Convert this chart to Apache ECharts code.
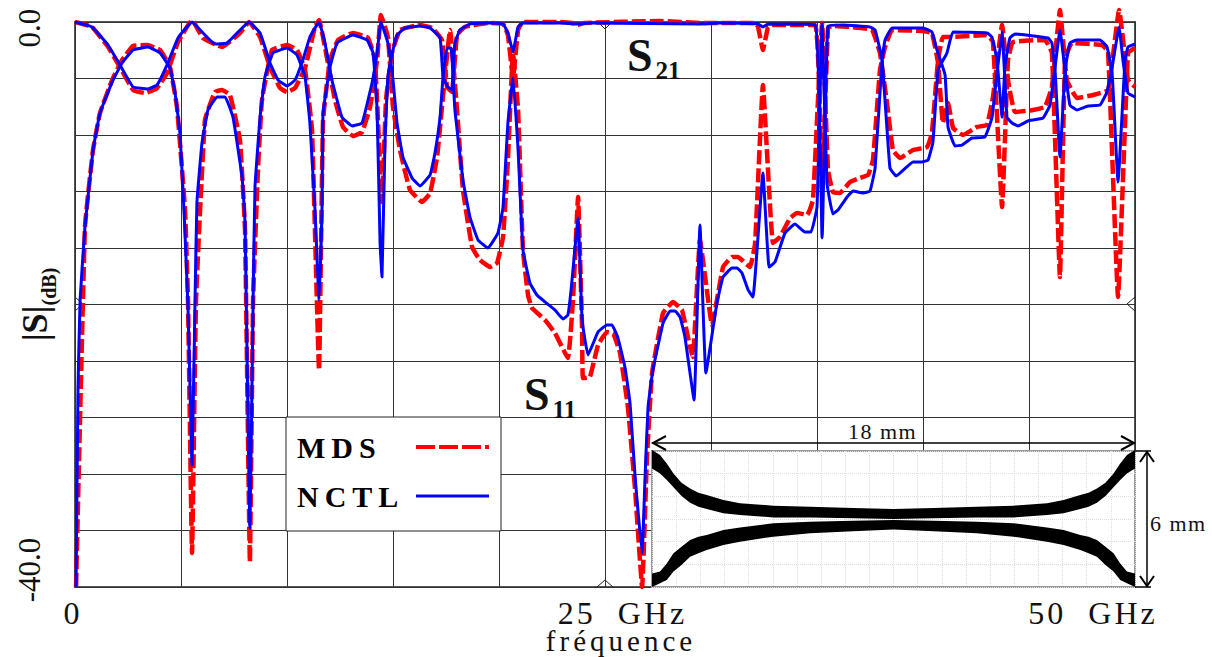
<!DOCTYPE html>
<html><head><meta charset="utf-8">
<style>html,body{margin:0;padding:0;background:#fff}#main{width:1212px;height:657px}</style>
<script src="https://cdn.jsdelivr.net/npm/echarts@6/dist/echarts.min.js"></script>
</head><body><div id="main"></div>
<script>
const s11Nctl=[[0,0],[.8,-.35],[1.56,-1.63],[2.12,-3.04],[2.74,-4.6],[3.44,-4.74],[3.87,-4.46],[4.34,-3.04],[4.86,-1.13],[5.52,0],[6.04,-.78],[6.6,-1.56],[7.17,-1.49],[7.69,-.71],[8.21,0],[8.73,-.78],[9.2,-2.9],[9.58,-4.11],[10,-4.53],[10.38,-4.11],[10.75,-2.69],[11.08,-1.06],[11.51,0],[11.79,-1.49],[12.12,-4.11],[12.59,-6.73],[13.07,-7.36],[13.54,-7.15],[14.01,-4.32],[14.25,-2.19],[14.43,0],[14.76,-1.49],[15,-4.11],[15.19,-7.15],[15.47,-9.56],[15.9,-11.04],[16.27,-11.61],[16.75,-10.83],[16.98,-9.27],[17.22,-6.73],[17.36,-3.89],[17.55,-1.84],[17.74,-1.84],[17.92,-6.23],[18.3,-11.19],[18.63,-13.81],[19.01,-15.43],[19.48,-16],[19.95,-14.94],[20.19,-13.1],[20.42,-7.15],[20.66,-3.96],[20.9,-9.06],[21.13,-16.14],[21.46,-18.48],[21.79,-19.33],[22.17,-19.82],[22.64,-20.39],[23.02,-21.03],[23.25,-20.74],[23.4,-18.97],[23.73,-13.88],[23.92,-21.1],[24.2,-23.58],[24.67,-21.95],[25.09,-21.45],[25.33,-21.45],[25.61,-22.37],[25.94,-24.43],[26.18,-26.97],[26.42,-32.21],[26.75,-37.59],[26.89,-32.21],[27.03,-27.26],[27.26,-24.64],[27.74,-21.31],[28.07,-20.46],[28.3,-20.46],[28.54,-20.89],[28.77,-22.3],[29.2,-26.76],[29.48,-14.37],[29.76,-24.85],[30.28,-19.89],[30.57,-18.05],[30.99,-17.42],[31.23,-17.42],[31.46,-17.77],[31.75,-18.97],[31.98,-19.47],[32.45,-10.69],[32.74,-17.35],[33.02,-16.99],[33.49,-14.94],[33.96,-14.3],[34.43,-14.87],[34.72,-14.87],[35,-13.1],[35.24,-.14],[35.47,-11.4],[35.75,-13.59],[35.99,-13.31],[36.42,-12.39],[36.7,-11.97],[37.17,-12.11],[37.5,-11.97],[37.74,-10.34],[38.07,-2.69],[38.21,-1.27],[38.54,-.42],[40,-.42],[40.42,-.71],[40.66,-1.98],[41.04,-3.75],[41.18,-7.43],[41.51,-8.78],[41.84,-8.71],[42.31,-8.21],[42.92,-8.14],[43.25,-6.8],[43.49,-3.61],[43.73,-.71],[43.96,-6.73],[44.2,-7.15],[44.48,-7.36],[44.95,-7.01],[45.66,-6.8],[45.99,-5.88],[46.23,-3.19],[46.46,-.57],[46.7,-3.4],[46.93,-5.88],[47.26,-6.23],[47.78,-5.95],[48.35,-5.88],[48.68,-4.96],[48.92,-3.19],[49.25,-.35],[49.43,-2.69],[49.67,-5.03],[50,-5.31]];
const s21Nctl=[[.05,-40],[.14,-26.06],[.24,-19.68],[.47,-14.51],[.85,-9.06],[1.18,-6.44],[1.75,-4.25],[2.22,-2.9],[2.74,-1.98],[3.44,-1.77],[4.01,-2.19],[4.48,-3.26],[4.72,-5.03],[4.95,-7.86],[5.14,-13.31],[5.33,-20.18],[5.52,-31.36],[5.66,-19.89],[5.75,-12.81],[5.99,-8.57],[6.27,-6.23],[6.7,-5.31],[7.08,-5.31],[7.45,-6.73],[7.88,-10.97],[8.02,-14.23],[8.25,-35.82],[8.4,-19.89],[8.49,-11.68],[8.73,-6.73],[8.96,-3.89],[9.34,-2.19],[10,-1.84],[10.47,-2.34],[10.85,-3.89],[11.08,-7.15],[11.32,-13.31],[11.51,-19.68],[11.65,-13.31],[11.7,-6.44],[12.03,-3.19],[12.36,-1.49],[13.11,-.92],[13.77,-1.27],[14.06,-2.19],[14.25,-6.23],[14.39,-15.65],[14.48,-18.05],[14.62,-8.57],[14.76,-3.89],[15,-1.98],[15.19,-.92],[15.57,-.42],[16.27,-.28],[16.75,-.42],[17.22,-1.13],[17.36,-3.89],[17.59,-4.6],[17.78,-4.81],[17.92,-1.49],[18.16,-.57],[18.63,-.14],[19.48,-.07],[20.19,-.14],[20.42,-.78],[20.66,-2.12],[20.9,-.35],[21.13,-.07],[22.88,-.07],[23.68,-.14],[24.29,-.07],[29.48,-.14],[30.42,-.07],[32.22,-.14],[32.45,-.35],[32.69,-.14],[34.91,-.21],[35.24,-15.29],[35.52,-.28],[36.23,-.21],[37.5,-.35],[37.74,-.57],[38.07,-2.69],[38.44,-10.34],[38.73,-10.9],[39.53,-9.91],[39.95,-9.91],[40.24,-9.77],[40.47,-8.5],[40.71,-3.4],[41.13,-2.19],[41.42,-.71],[43.02,-.78],[43.25,-1.06],[43.49,-2.69],[43.73,-6.73],[43.87,-3.04],[44.1,-1.13],[44.34,-.85],[45.9,-1.13],[46.08,-1.49],[46.23,-3.4],[46.46,-9.56],[46.7,-3.4],[46.93,-1.49],[47.26,-1.27],[48.35,-1.27],[48.68,-1.77],[48.92,-3.61],[49.2,-11.33],[49.53,-2.69],[49.67,-1.77],[50,-1.56]];
const s11Mds=[[0,0],[.8,-.35],[1.56,-1.77],[2.12,-3.19],[2.74,-4.81],[3.3,-5.03],[3.87,-4.67],[4.34,-3.61],[4.86,-1.42],[5.52,.14],[6.04,-1.13],[6.93,-1.77],[7.78,-.78],[8.21,0],[8.73,-1.06],[9.2,-3.19],[9.67,-4.67],[10,-4.96],[10.38,-4.67],[10.85,-3.26],[11.32,-.35],[11.51,.14],[11.79,-1.77],[12.26,-5.52],[12.64,-7.43],[13.11,-8.07],[13.54,-7.79],[13.92,-6.02],[14.25,-2.69],[14.43,.5],[14.76,-1.06],[15,-6.02],[15.33,-9.06],[15.8,-11.89],[16.37,-12.74],[16.75,-12.11],[17.08,-9.56],[17.31,-6.02],[17.69,-.57],[18.02,-6.23],[18.3,-11.89],[18.73,-15.93],[19.1,-16.85],[19.58,-17.35],[19.91,-17.06],[20.19,-15.22],[20.42,-9.77],[20.66,-2.19],[20.9,-6.23],[21.13,-16.14],[21.37,-19.33],[21.56,-20.25],[22.17,-21.1],[22.64,-22.02],[23.25,-23.79],[23.49,-19.68],[23.73,-12.39],[23.92,-21.81],[23.96,-25.21],[24.29,-25.13],[24.67,-22.87],[25.09,-21.95],[25.38,-22.02],[25.71,-23.44],[26.08,-27.26],[26.42,-33.13],[26.75,-40],[26.98,-30.8],[27.22,-24.85],[27.74,-20.6],[28.21,-19.82],[28.63,-20.39],[29.01,-23.01],[29.15,-23.72],[29.48,-15.43],[30.05,-21.45],[30.28,-19.68],[30.57,-17.35],[30.99,-16.64],[31.27,-16.64],[31.84,-17.35],[32.08,-15.65],[32.45,-4.46],[32.92,-15.65],[33.25,-15.22],[33.73,-13.88],[34.06,-13.52],[34.53,-13.66],[34.81,-12.6],[35.24,-.07],[35.52,-10.48],[35.75,-12.04],[36.08,-12.11],[36.56,-11.33],[37.03,-11.04],[37.41,-10.83],[37.64,-9.77],[37.97,-3.4],[38.21,-1.77],[38.54,-.57],[40,-.64],[40.42,-.78],[40.71,-2.9],[40.94,-7.15],[41.18,-5.73],[41.42,-7.51],[41.89,-8],[42.55,-7.43],[43.02,-7.29],[43.3,-5.31],[43.73,-.21],[44.01,-4.11],[44.34,-6.37],[45.19,-6.23],[45.75,-6.02],[46.08,-4.6],[46.46,.85],[46.79,-4.11],[47.26,-5.38],[48.02,-5.17],[48.73,-4.81],[49.25,.85],[49.67,-4.11],[50,-4.6]];
const s21Mds=[[.05,-40],[.47,-14.51],[.85,-9.06],[1.18,-6.44],[1.75,-4.11],[2.22,-2.69],[2.74,-1.7],[3.4,-1.63],[4.01,-1.98],[4.48,-3.19],[4.81,-6.02],[5.19,-13.31],[5.33,-19.68],[5.52,-37.59],[5.71,-19.68],[6.13,-6.94],[6.6,-4.96],[6.93,-4.81],[7.31,-5.17],[7.78,-8.35],[8.02,-14.73],[8.25,-38.23],[8.4,-19.68],[8.63,-10.48],[8.82,-5.52],[9.29,-1.98],[10,-1.63],[10.47,-1.98],[10.85,-3.4],[11.18,-7.65],[11.51,-24.64],[11.7,-6.94],[12.03,-2.69],[12.41,-1.27],[13.11,-.78],[13.82,-1.13],[14.15,-2.69],[14.48,-12.74],[14.67,-5.52],[14.95,-2.19],[15.33,-.57],[16.27,-.21],[16.84,-.42],[17.31,-1.27],[17.55,-4.6],[17.78,-4.96],[18.02,-.92],[18.4,-.35],[19.48,-.07],[20.19,-.14],[20.42,-.92],[20.66,-3.96],[20.9,-.57],[21.13,0],[22.88,0],[23.44,-.07],[23.73,-.21],[24.01,-.07],[27.59,.07],[29.48,-.07],[32.08,-.07],[32.22,-.35],[32.45,-1.98],[32.69,-.35],[32.88,-.21],[34.91,-.21],[35.24,-11.89],[35.52,-.42],[35.75,-.28],[36.56,-.35],[37.59,-.57],[37.97,-2.19],[38.3,-5.73],[38.58,-9.06],[38.92,-9.63],[39.53,-9.06],[40.19,-8.85],[40.42,-7.86],[40.71,-2.69],[40.94,-1.06],[41.37,-1.06],[43.02,-.92],[43.3,-1.42],[43.73,-13.1],[44.01,-2.69],[44.25,-1.42],[45.75,-1.27],[46.08,-2.19],[46.46,-18.05],[46.7,-2.69],[47.03,-1.49],[48.44,-1.63],[48.73,-2.12],[49.2,-19.47],[49.67,-2.19],[50,-1.84]];
// Inset layout outline: x in mm, y in mm
const upperTrackTop=[[0,6.04],[.3,5.82],[.55,5.45],[.8,5.01],[1.1,4.6],[1.42,4.35],[1.73,4.16],[2.04,4.06],[2.66,3.84],[3.28,3.69],[4.52,3.59],[5.89,3.54],[7.5,3.48],[9,3.44],[10.5,3.48],[12.11,3.54],[13.48,3.59],[14.72,3.69],[15.34,3.84],[15.96,4.06],[16.27,4.16],[16.58,4.35],[16.9,4.6],[17.2,5.01],[17.45,5.45],[17.7,5.82],[18,6.04]];
const upperTrackBottom=[[18,5.23],[17.7,5.01],[17.45,4.72],[17.2,4.4],[16.9,4.01],[16.58,3.72],[16.27,3.54],[15.96,3.44],[15.34,3.25],[14.72,3.18],[13.48,3.07],[12.11,3.07],[10.5,3.03],[9,3],[7.5,3.03],[5.89,3.07],[4.52,3.07],[3.28,3.18],[2.66,3.25],[2.04,3.44],[1.73,3.54],[1.42,3.72],[1.1,4.01],[.8,4.4],[.55,4.72],[.3,5.01],[0,5.23]];
const lowerTrackTop=[[0,.6],[.3,.68],[.55,1.04],[.8,1.49],[1.1,1.78],[1.42,2.07],[1.73,2.22],[2.04,2.29],[2.66,2.51],[3.28,2.63],[4.52,2.81],[5.89,2.88],[7.5,2.92],[9,2.96],[10.5,2.92],[12.11,2.88],[13.48,2.81],[14.72,2.63],[15.34,2.51],[15.96,2.29],[16.27,2.22],[16.58,2.07],[16.9,1.78],[17.2,1.49],[17.45,1.04],[17.7,.68],[18,.6]];
const lowerTrackBottom=[[18,0],[17.7,.16],[17.45,.31],[17.2,.68],[16.9,.97],[16.58,1.34],[16.27,1.49],[15.96,1.63],[15.34,1.85],[14.72,2],[13.48,2.22],[12.11,2.37],[10.5,2.46],[9,2.54],[7.5,2.46],[5.89,2.37],[4.52,2.22],[3.28,2],[2.66,1.85],[2.04,1.63],[1.73,1.49],[1.42,1.34],[1.1,.97],[.8,.68],[.55,.31],[.3,.16],[0,0]];
const xTickValues=[0,25,50];
const yTickValues=[-40,0];
const seriesNames=['MDS','NCTL'];
const serif='"Liberation Serif","Times New Roman",serif';
const RED='#ff0000',BLUE='#0000ff',GRID='#333';

function polygonItem(params,api,pts){
  return {type:'polygon',shape:{points:pts.map(p=>api.coord(p))},style:{fill:'#000'}};
}
function track(a,b,name){
  return {type:'custom',name:name,xAxisIndex:1,yAxisIndex:1,z:4,silent:true,clip:false,
    data:[[0,0]],encode:{x:0,y:1},
    renderItem:(params,api)=>polygonItem(params,api,a.concat(b))};
}
function line(name,data,color,width,dash,z){
  return {type:'line',name:name,data:data,showSymbol:false,symbol:'none',clip:false,z:z,silent:true,
    animation:false,smooth:0.1,lineStyle:{color:color,width:width,type:dash||'solid',join:'round',cap:'butt'},itemStyle:{color:color}};
}
function arrow(pts,w){return {type:'polyline',z:20,silent:true,shape:{points:pts},style:{stroke:'#000',lineWidth:w||1.5,fill:null}};}
function mark(pts){return {type:'polyline',z:1,silent:true,shape:{points:pts},style:{stroke:'#222',lineWidth:1,fill:null}};}
const subLabel={s:{font:'bold 46px '+serif,fill:'#111',lineHeight:46},n:{font:'bold 25px '+serif,fill:'#111',lineHeight:16,padding:[30,0,0,3]}};

const chart=echarts.init(document.getElementById('main'),null,{renderer:'svg',width:1212,height:657});
chart.setOption({
  animation:false,backgroundColor:'#fff',
  textStyle:{fontFamily:serif},
  grid:[
    {left:75,top:22,width:1060,height:565,outerBoundsMode:'none',show:true,borderColor:'#555',borderWidth:2,backgroundColor:'#fff',z:0},
    {left:652,top:451,width:483,height:136,outerBoundsMode:'none',show:true,borderColor:'#999',borderWidth:2,backgroundColor:'#fff',z:3}
  ],
  legend:{left:286,top:417,orient:'vertical',align:'right',z:10,itemWidth:73,itemHeight:10,itemGap:17,
    data:[{name:seriesNames[0],lineStyle:{width:4,type:[19,4]}},{name:seriesNames[1],lineStyle:{width:3}}],
    padding:[14,10,19,11],backgroundColor:'#fff',borderColor:'#222',borderWidth:1,selectedMode:false,
    itemStyle:{opacity:0},
    formatter:n=>'{l|'+n+'}',
    textStyle:{fontFamily:serif,fontWeight:'bold',fontSize:30,color:'#000',lineHeight:32,
      rich:{l:{width:114,align:'left',fontFamily:serif,fontWeight:'bold',fontSize:30,color:'#000',lineHeight:32}}}},
  xAxis:[
    {type:'value',gridIndex:0,min:0,max:50,interval:5,z:1,
     name:'fréquence',nameLocation:'middle',nameGap:43,nameMoveOverlap:false,
     nameTextStyle:{fontFamily:serif,fontSize:29,lineHeight:22,color:'#111',padding:[0,0,0,32]},
     axisLine:{show:false},axisTick:{show:false},
     splitLine:{show:true,lineStyle:{color:GRID,width:1}},
     axisLabel:{customValues:xTickValues,margin:12,color:'#111',fontFamily:serif,fontSize:32,showMinLabel:true,showMaxLabel:true,hideOverlap:false,
       formatter:v=>v===0?'{a|0}':v===25?'{b|25  GHz}':'{c|50  GHz}',
       rich:{a:{fontSize:32,lineHeight:28,fontFamily:serif,padding:[0,7,0,0]},b:{fontSize:32,lineHeight:28,fontFamily:serif,padding:[0,0,0,35]},c:{fontSize:32,lineHeight:28,fontFamily:serif,padding:[0,84,0,0]}}}},
    {type:'value',gridIndex:1,min:0,max:18,interval:0.9,z:3,
     axisLine:{show:false},axisTick:{show:false},axisLabel:{show:false},
     splitLine:{show:true,lineStyle:{color:'#dedede',width:1,type:'dotted'}}}
  ],
  yAxis:[
    {type:'value',gridIndex:0,min:-40,max:0,interval:4,z:1,
     name:'{s||S|}{d|(dB)}',nameLocation:'middle',nameRotate:90,nameGap:22,nameMoveOverlap:false,
     nameTextStyle:{rich:{s:{fontFamily:serif,fontWeight:'bold',fontSize:36,color:'#111',lineHeight:36,verticalAlign:'top'},d:{fontFamily:serif,fontWeight:'bold',fontSize:20,color:'#111',lineHeight:16,padding:[28,0,0,0]}}},
     axisLine:{show:false},axisTick:{show:false},
     splitLine:{show:true,lineStyle:{color:GRID,width:1}},
     axisLabel:{customValues:yTickValues,rotate:90,margin:30,color:'#111',fontFamily:serif,fontSize:31,showMinLabel:true,showMaxLabel:true,hideOverlap:false,
       formatter:v=>v===0?'{t|0.0}':'{b|-40.0}',
       rich:{t:{fontSize:31,fontFamily:serif,padding:[0,12,0,0]},b:{fontSize:31,fontFamily:serif,padding:[0,0,0,34]}}}},
    {type:'value',gridIndex:1,min:0,max:6,interval:1,z:3,
     axisLine:{show:false},axisTick:{show:false},axisLabel:{show:false},
     splitLine:{show:true,lineStyle:{color:'#dedede',width:1,type:'dotted'}}}
  ],
  series:[
    line('MDS',s21Mds,RED,4.5,[14,4],2),
    line('MDS',s11Mds,RED,4.5,[14,4],2),
    line('NCTL',s21Nctl,BLUE,3,null,3),
    line('NCTL',s11Nctl,BLUE,3,null,3),
    track(upperTrackTop,upperTrackBottom,'upper track'),
    track(lowerTrackTop,lowerTrackBottom,'lower track')
  ],
  graphic:[
    {type:'text',z:20,silent:true,left:627,top:28,style:{text:'{s|S}{n|21}',rich:subLabel}},
    {type:'text',z:20,silent:true,left:524,top:367,style:{text:'{s|S}{n|11}',rich:subLabel}},
    {type:'text',z:20,silent:true,left:848,top:420,style:{text:'18 mm',font:'22px '+serif,fill:'#111'}},
    {type:'text',z:20,silent:true,left:1150,top:512,style:{text:'6 mm',font:'22px '+serif,fill:'#111'}},
    arrow([[652,443],[1135,443]]),
    arrow([[666,436],[653,443],[666,450]],2),
    arrow([[1121,436],[1134,443],[1121,450]],2),
    arrow([[1135,451],[1151,451]]),
    arrow([[1135,587],[1151,587]]),
    arrow([[1147,451],[1147,587]]),
    arrow([[1140,462],[1147,452],[1154,462]],2),
    arrow([[1140,576],[1147,586],[1154,576]],2),
    mark([[598,22],[605,29],[612,22]]),
    mark([[597,587],[605,580],[613,587]]),
    mark([[75,297],[83,304],[75,311]]),
    mark([[1135,297],[1127,304],[1135,311]])
  ]
});
const letterGaps={'fréquence':'4px','MDS':'6px','NCTL':'6px','18 mm':'1.5px','6 mm':'1.5px','25  GHz':'3px','50  GHz':'3px'};
function applyGaps(){
  document.querySelectorAll('#main text').forEach(t=>{
    const g=letterGaps[t.textContent];
    if(g){t.style.letterSpacing=g;}
  });
}
applyGaps();
chart.on('finished',applyGaps);
</script></body></html>
